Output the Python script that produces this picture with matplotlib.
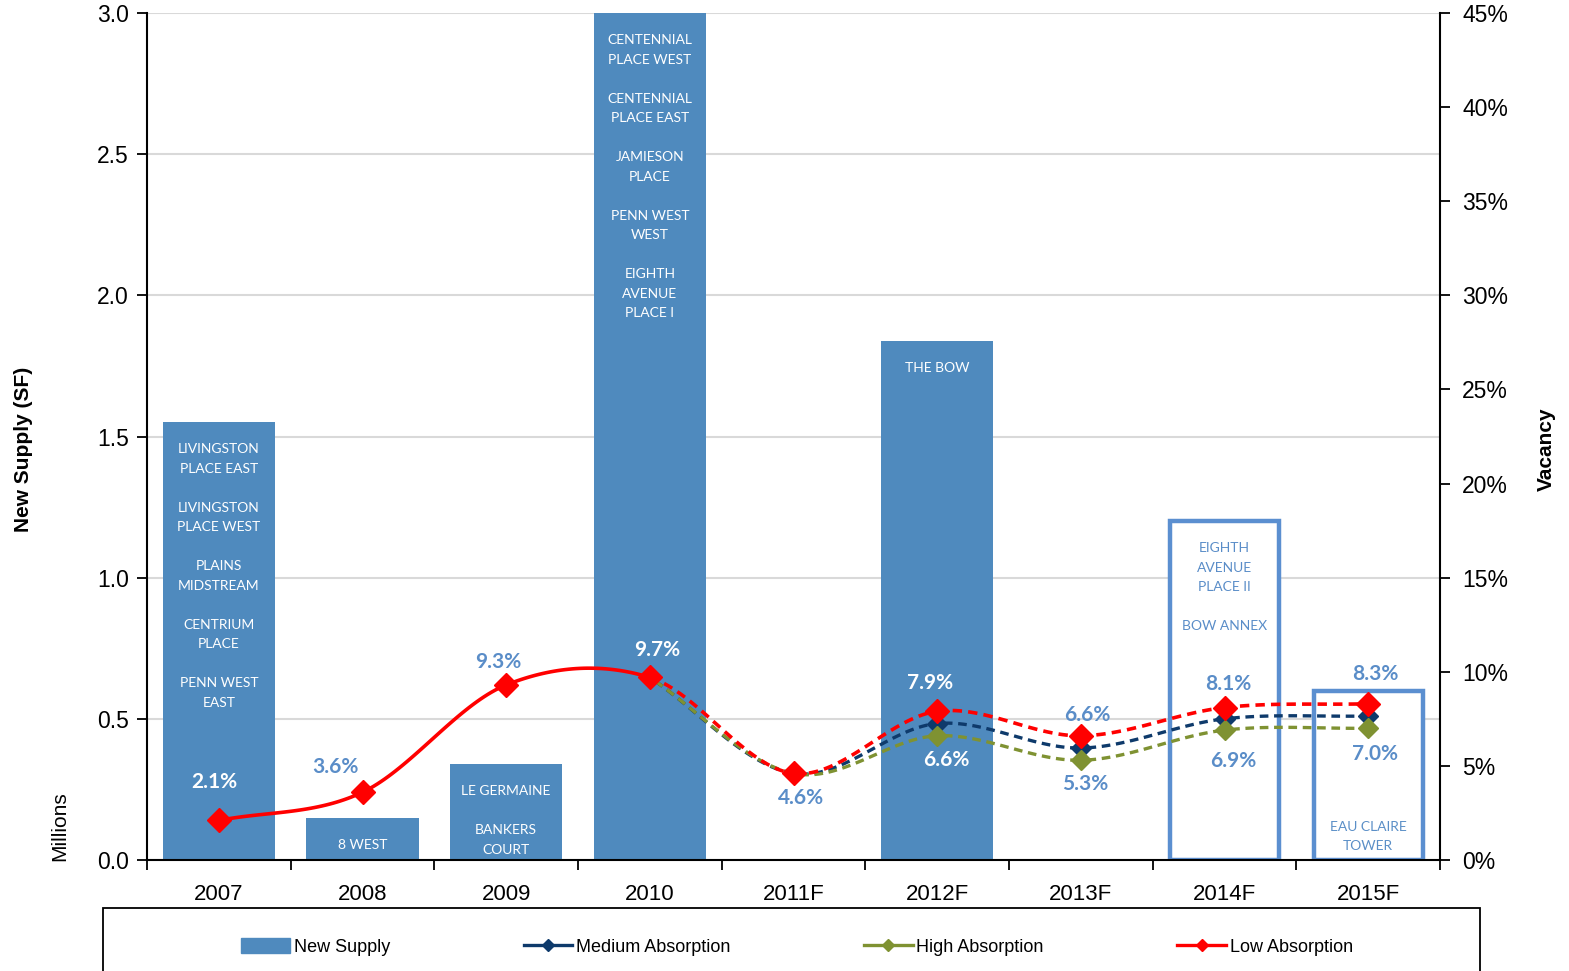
import numpy as np
import matplotlib.pyplot as plt
from matplotlib.lines import Line2D
from matplotlib.patches import Patch, Rectangle

# 数据
years = ["2007", "2008", "2009", "2010", "2011F", "2012F", "2013F", "2014F", "2015F"]
new_supply = [1.55, 0.15, 0.34, 3.15, 0.0, 1.84, 0.0, 1.20, 0.60]
is_forecast_bar = [False, False, False, False, False, False, False, True, True]
buildings = [
    "LIVINGSTON\nPLACE EAST\n\nLIVINGSTON\nPLACE WEST\n\nPLAINS\nMIDSTREAM\n\nCENTRIUM\nPLACE\n\nPENN WEST\nEAST",
    "8 WEST",
    "LE GERMAINE\n\nBANKERS\nCOURT",
    "CENTENNIAL\nPLACE WEST\n\nCENTENNIAL\nPLACE EAST\n\nJAMIESON\nPLACE\n\nPENN WEST\nWEST\n\nEIGHTH\nAVENUE\nPLACE I",
    "",
    "THE BOW",
    "",
    "EIGHTH\nAVENUE\nPLACE II\n\nBOW ANNEX",
    "EAU CLAIRE\nTOWER",
]
low_abs = [2.1, 3.6, 9.3, 9.7, 4.6, 7.9, 6.6, 8.1, 8.3]
medium_abs = [np.nan, np.nan, np.nan, 9.7, 4.6, 7.25, 5.95, 7.5, 7.65]
high_abs = [np.nan, np.nan, np.nan, 9.7, 4.6, 6.6, 5.3, 6.9, 7.0]

# 标签显示（上方 = 低吸纳，下方 = 高吸纳）
low_label_show = [True, True, True, True, False, True, True, True, True]
high_label_show = [False, False, False, False, True, True, True, True, True]

# 样式
BAR_COLOR = "#4F8ABE"
LABEL_BLUE = "#5A8DC8"
RED = "#FF0000"
NAVY = "#0E3A6B"
OLIVE = "#7F9232"

plt.rcParams["font.family"] = ["Liberation Sans", "DejaVu Sans"]
CAL = ["Lato", "DejaVu Sans"]


def smooth(xs, ys, n=40):
    # Catmull-Rom 平滑（类似 Excel 的平滑线）
    xs = np.asarray(xs, float)
    ys = np.asarray(ys, float)
    m = np.gradient(ys, xs)
    segs = []
    for i in range(len(xs) - 1):
        t = np.linspace(0, 1, n)
        h00 = 2 * t**3 - 3 * t**2 + 1
        h10 = t**3 - 2 * t**2 + t
        h01 = -2 * t**3 + 3 * t**2
        h11 = t**3 - t**2
        dx = xs[i + 1] - xs[i]
        y = h00 * ys[i] + h10 * dx * m[i] + h01 * ys[i + 1] + h11 * dx * m[i + 1]
        x = xs[i] + t * dx
        segs.append((x, y))
    return segs


fig = plt.figure(figsize=(15.69, 9.71), dpi=100)
ax = fig.add_axes([147 / 1569, 1 - 860 / 971, 1293 / 1569, 847 / 971])
x = np.arange(len(years))

# 柱状图
for i, (h, fc) in enumerate(zip(new_supply, is_forecast_bar)):
    if fc:
        ax.bar(i, h, width=0.76, facecolor="white", edgecolor="#5B8FD0", linewidth=3.2, zorder=2)
    else:
        ax.bar(i, h, width=0.78, color=BAR_COLOR, zorder=2)

ax.set_xlim(-0.5, len(years) - 0.5)
ax.set_ylim(0, 3.0)
ax.set_yticks(np.arange(0, 3.01, 0.5))
ax.set_yticklabels([f"{v:.1f}" for v in np.arange(0, 3.01, 0.5)], fontsize=16.5)
ax.yaxis.grid(True, color="#D9D9D9", linewidth=1.5, zorder=0)
ax.set_axisbelow(True)
ax.set_xticks(x)
ax.set_xticklabels(years, fontsize=16)
ax.set_xticks(np.arange(-0.5, len(years), 1.0), minor=True)
ax.tick_params(axis="x", which="major", length=0, pad=17)
ax.tick_params(axis="x", which="minor", length=7, width=1.3, direction="out")
ax.tick_params(axis="y", length=7, width=1.3, direction="out", pad=6)
for s in ["top", "right"]:
    ax.spines[s].set_visible(False)
ax.spines["left"].set_linewidth(1.5)
ax.spines["bottom"].set_linewidth(1.5)

# 柱内楼宇名称
for i, (h, txt) in enumerate(zip(new_supply, buildings)):
    if not txt:
        continue
    col = LABEL_BLUE if is_forecast_bar[i] else "white"
    if years[i] == "2015F":
        ax.annotate(txt, (i, 0), xytext=(0, 8), textcoords="offset pixels",
                    ha="center", va="bottom", color="#5B8FC7", fontsize=10,
                    family=CAL, linespacing=1.7, zorder=3)
    else:
        top = min(h, 3.0)
        ax.annotate(txt, (i, top), xytext=(0, -21), textcoords="offset pixels",
                    ha="center", va="top", color=col, fontsize=10,
                    family=CAL, linespacing=1.75, zorder=3)

ax.set_ylabel("New Supply (SF)", fontsize=15, fontweight="bold", labelpad=0)
ax.yaxis.set_label_coords(-114 / 1293, 0.485)
fig.text(60 / 1569, 1 - 826 / 971, "Millions", rotation=90, ha="center", va="center", fontsize=15)

# 空置率（右轴）
ax2 = ax.twinx()
ax2.set_ylim(0, 45)
ax2.set_yticks(np.arange(0, 46, 5))
ax2.set_yticklabels([f"{v}%" for v in range(0, 46, 5)], fontsize=16.5)
ax2.tick_params(axis="y", length=7, width=1.3, direction="out", pad=9)
for s in ["top", "left", "bottom"]:
    ax2.spines[s].set_visible(False)
ax2.spines["right"].set_linewidth(1.5)
ax2.set_ylabel("Vacancy", fontsize=15, fontweight="bold", rotation=90)
ax2.yaxis.set_label_coords(1 + 97 / 1293, 0.485)


def draw_series(vals, color, ms, z, solid_until=None, phase=0.0, lw=2.4):
    vals = np.asarray(vals, float)
    ok = ~np.isnan(vals)
    xs = x[ok]
    ys = vals[ok]
    for k, (sx, sy) in enumerate(smooth(xs, ys)):
        ls = "-" if (solid_until is not None and xs[k + 1] <= solid_until) else (phase, (2.6, 1.7))
        ax2.plot(sx, sy, color=color, linewidth=lw, linestyle=ls, zorder=z,
                 solid_capstyle="round")
    ax2.plot(xs, ys, linestyle="none", marker="D", markersize=ms, color=color, zorder=z + 0.5)


draw_series(medium_abs, NAVY, 10, 3, phase=2.3)
draw_series(high_abs, OLIVE, 10, 4, phase=2.3)
draw_series(low_abs, RED, 12, 5, solid_until=3, lw=2.6)

# 数值标签
low_off = [(-5, 38), (-27, 25), (-8, 23), (7, 27), (0, 0), (-7, 28), (6, 21), (4, 24), (7, 30)]
high_off = [(0, 0), (0, 0), (0, 0), (0, 0), (8, -25), (9, -24), (4, -24), (9, -31), (7, -26)]
on_bar = [True, False, False, True, False, True, False, False, False]
for i in range(len(years)):
    col = "white" if on_bar[i] else LABEL_BLUE
    if low_label_show[i]:
        ax2.annotate(f"{low_abs[i]:.1f}%", (i, low_abs[i]), xytext=low_off[i],
                     textcoords="offset pixels", ha="center", va="center",
                     color=col, fontsize=15, fontweight="bold", family=CAL, zorder=6)
    if high_label_show[i]:
        ax2.annotate(f"{high_abs[i]:.1f}%", (i, high_abs[i]), xytext=high_off[i],
                     textcoords="offset pixels", ha="center", va="center",
                     color=col, fontsize=15, fontweight="bold", family=CAL, zorder=6)

# 图例
fig.patches.append(Rectangle((103 / 1569, -0.05), 1377 / 1569, 0.05 + (971 - 908) / 971,
                             transform=fig.transFigure, facecolor="white",
                             edgecolor="black", linewidth=1.3))
handles = [
    Patch(facecolor=BAR_COLOR, edgecolor=BAR_COLOR),
    Line2D([], [], color=NAVY, linewidth=2.4, marker="D", markersize=6),
    Line2D([], [], color=OLIVE, linewidth=2.4, marker="D", markersize=6),
    Line2D([], [], color=RED, linewidth=2.4, marker="D", markersize=6),
]
labels = ["New Supply", "Medium Absorption", "High Absorption", "Low Absorption"]
fig.legend(handles, labels, loc="center", bbox_to_anchor=(797 / 1569, 1 - 947 / 971),
           ncol=4, frameon=False, prop={"size": 13},
           handlelength=2.7, handleheight=0.9, handletextpad=0.2, columnspacing=7.4)

fig.savefig("out.png", dpi=100)
